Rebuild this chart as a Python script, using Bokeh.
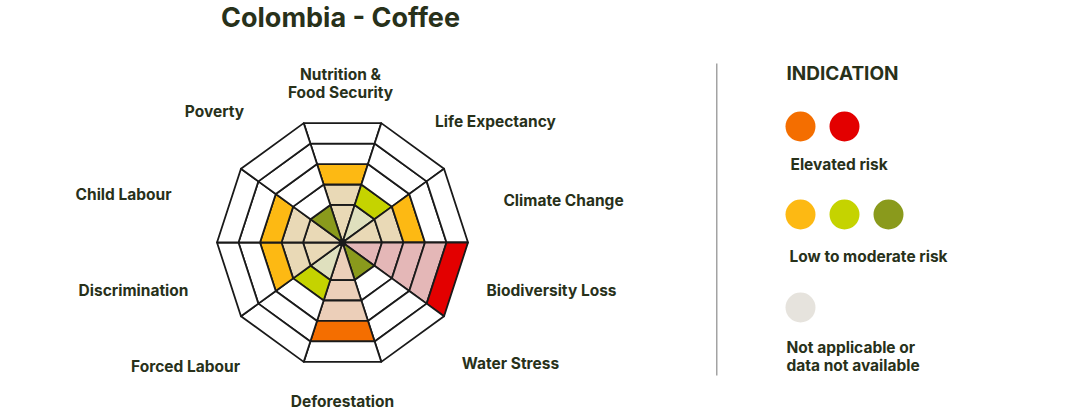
import numpy as np
from bokeh.plotting import figure
from bokeh.models import Range1d
from bokeh.core.properties import value
from bokeh.embed import file_html
from bokeh.resources import INLINE

# Chart data
title = "Colombia - Coffee"
categories = ["Nutrition &\nFood Security", "Life Expectancy", "Climate Change",
              "Biodiversity Loss", "Water Stress", "Deforestation", "Forced Labour",
              "Discrimination", "Child Labour", "Poverty"]
levels = [3, 2, 3, 5, 1, 4, 2, 3, 3, 1]
risk = ["yellow", "lime", "yellow", "red", "olive", "orange", "lime", "yellow", "yellow", "olive"]

legend_groups = ["Elevated risk", "Low to moderate risk", "Not applicable or\ndata not available"]
legend_swatches = [["orange", "red"], ["yellow", "lime", "olive"], ["grey"]]

# Colours
strong = {"yellow": "#fdb913", "lime": "#c5d300", "olive": "#8a9a1c",
          "orange": "#f46e00", "red": "#e30000", "grey": "#e6e3dd"}
tint = {"yellow": "#e9d9b6", "lime": "#dfe0be", "olive": "#dfe0be",
        "orange": "#eccfb9", "red": "#e4b7b7", "grey": "#ffffff"}
text_color = "#28311a"
FONT = "Inter"

# Layout in page pixels
W, H = 1065, 412
cx, cy = 342, 242
ring_r = [0, 39.5, 61, 82.5, 104, 125.5]
label_off = [(-2, -159), (153, -121), (221, -42), (209, 48), (168, 121),
             (0, 159), (-157, 124), (-209, 48), (-219, -48), (-128, -131)]

p = figure(width=W, height=H, x_range=Range1d(0, W), y_range=Range1d(H, 0),
           output_backend="svg", toolbar_location=None,
           x_axis_type=None, y_axis_type=None, min_border=0)
p.grid.visible = False
p.outline_line_color = None
p.background_fill_color = "white"

# Radar sectors: category k is centred at 90 - 36k degrees (clockwise from top)
xs, ys, fills = [], [], []
for k, (lev, key) in enumerate(zip(levels, risk)):
    mid = np.deg2rad(90 - 36 * k)
    a1, a2 = mid + np.deg2rad(18), mid - np.deg2rad(18)
    for j in range(1, 6):
        r0, r1 = ring_r[j - 1], ring_r[j]
        px = [cx + r0 * np.cos(a1), cx + r0 * np.cos(a2), cx + r1 * np.cos(a2), cx + r1 * np.cos(a1)]
        py = [cy - r0 * np.sin(a1), cy - r0 * np.sin(a2), cy - r1 * np.sin(a2), cy - r1 * np.sin(a1)]
        xs.append(px)
        ys.append(py)
        if j < lev:
            fills.append(tint[key])
        elif j == lev:
            fills.append(strong[key])
        else:
            fills.append("white")

p.patches(xs, ys, fill_color=fills, line_color="#1a1a1a", line_width=1.8, line_join="round")
p.scatter([cx], [cy], size=7, color="#1a1a1a")

# Category labels
lx = [cx + dx for dx, dy in label_off]
ly = [cy + dy for dx, dy in label_off]
p.text(lx, ly, text=categories, text_align="center", text_baseline="middle",
       text_font=value(FONT), text_font_style="bold", text_font_size="15.5px",
       text_color=text_color, text_line_height=0.98)

# Title
p.text([340], [17], text=[title], text_align="center", text_baseline="middle",
       text_font=value(FONT), text_font_style="bold", text_font_size="27px",
       text_color=text_color)

# Legend panel
p.segment([716.3], [63], [716.3], [375], line_color="#8c8c8c", line_width=1.2)
p.text([786], [73], text=["INDICATION"], text_align="left", text_baseline="middle",
       text_font=value(FONT), text_font_style="bold", text_font_size="19px",
       text_color=text_color)

row_y = [126, 214, 307]
text_y = [164, 256, 356]
text_x = [790, 789, 786]
for g, label in enumerate(legend_groups):
    sx = [800 + 44 * i for i in range(len(legend_swatches[g]))]
    p.scatter(sx, [row_y[g]] * len(sx), size=30, line_color=None,
              fill_color=[strong[c] for c in legend_swatches[g]])
    p.text([text_x[g]], [text_y[g]], text=[label], text_align="left", text_baseline="middle",
           text_font=value(FONT), text_font_style="bold", text_font_size="15.5px",
           text_color=text_color, text_line_height=0.98)

open("out.html", "w").write(file_html(p, INLINE))
